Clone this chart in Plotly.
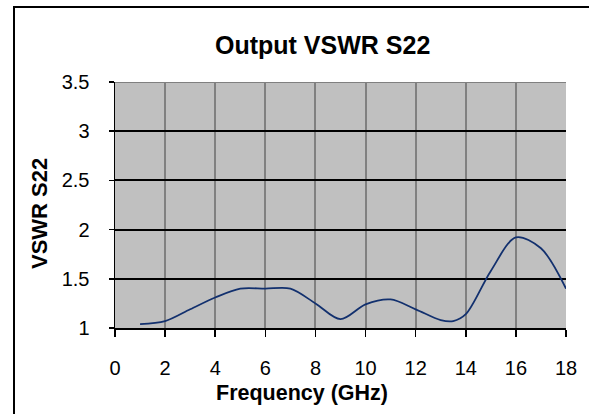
import plotly.graph_objects as go

freq_ghz = [1, 2, 3, 4, 5, 6, 7, 8, 9, 10, 11, 12, 13, 13.5, 14, 15, 16, 17, 18]
vswr_s22 = [1.04, 1.07, 1.19, 1.31, 1.40, 1.40, 1.40, 1.25, 1.09, 1.24, 1.29, 1.19, 1.08, 1.07, 1.14, 1.58, 1.92, 1.81, 1.40]
x_ticks = [0, 2, 4, 6, 8, 10, 12, 14, 16, 18]
y_ticks = [1, 1.5, 2, 2.5, 3, 3.5]

FONT = "Liberation Sans, Arial, sans-serif"

fig = go.Figure()
fig.add_trace(go.Scatter(
    x=freq_ghz, y=vswr_s22, mode="lines",
    line=dict(color="#12306e", width=1.8, shape="spline", smoothing=0.9),
    showlegend=False, hoverinfo="skip",
))

fig.update_layout(
    width=589, height=414,
    margin=dict(l=115, r=23, t=82, b=86),
    paper_bgcolor="white", plot_bgcolor="#C0C0C0",
    font=dict(family=FONT, size=20, color="black"),
    showlegend=False,
)
fig.update_xaxes(
    range=[0, 18], tickvals=x_ticks, ticktext=[str(v) for v in x_ticks],
    showgrid=True, gridcolor="#808080", gridwidth=2,
    showline=True, linecolor="black", linewidth=2,
    ticks="outside", ticklen=7, tickwidth=1.5, tickcolor="black",
    ticklabelstandoff=14, zeroline=False,
    tickfont=dict(family=FONT, size=20),
)
fig.update_yaxes(
    range=[1, 3.5], tickvals=y_ticks, ticktext=["1", "1.5", "2", "2.5", "3", "3.5"],
    showgrid=True, gridcolor="black", gridwidth=2,
    showline=True, linecolor="black", linewidth=1.5,
    ticks="outside", ticklen=5, tickwidth=1.5, tickcolor="black",
    ticklabelstandoff=15, zeroline=False,
    tickfont=dict(family=FONT, size=20),
)

# plot area border (gray top)
fig.add_shape(type="line", xref="x", yref="y", x0=0, x1=18, y0=3.5, y1=3.5,
              line=dict(color="#808080", width=2), layer="above")
# outer chart frame
fig.add_shape(type="rect", xref="paper", yref="paper",
              x0=(14 - 115) / 451, x1=(600 - 115) / 451,
              y0=(328 - 420) / 246, y1=(328 - 7) / 246,
              line=dict(color="black", width=2), layer="above")

fig.add_annotation(text="<b>Output VSWR S22</b>", xref="paper", yref="paper",
                   x=(322 - 115) / 451, y=(328 - 45) / 246, showarrow=False,
                   font=dict(family=FONT, size=25), xanchor="center", yanchor="middle")
fig.add_annotation(text="<b>Frequency (GHz)</b>", xref="paper", yref="paper",
                   x=(302 - 115) / 451, y=(328 - 393) / 246, showarrow=False,
                   font=dict(family=FONT, size=21.5), xanchor="center", yanchor="middle")
fig.add_annotation(text="<b>VSWR S22</b>", xref="paper", yref="paper",
                   x=(39 - 115) / 451, y=(328 - 214) / 246, showarrow=False, textangle=-90,
                   font=dict(family=FONT, size=22), xanchor="center", yanchor="middle")

fig.write_html("out.html", config={"displayModeBar": False, "staticPlot": True},
               post_script="document.body.style.margin='0';document.body.style.overflow='hidden';")
